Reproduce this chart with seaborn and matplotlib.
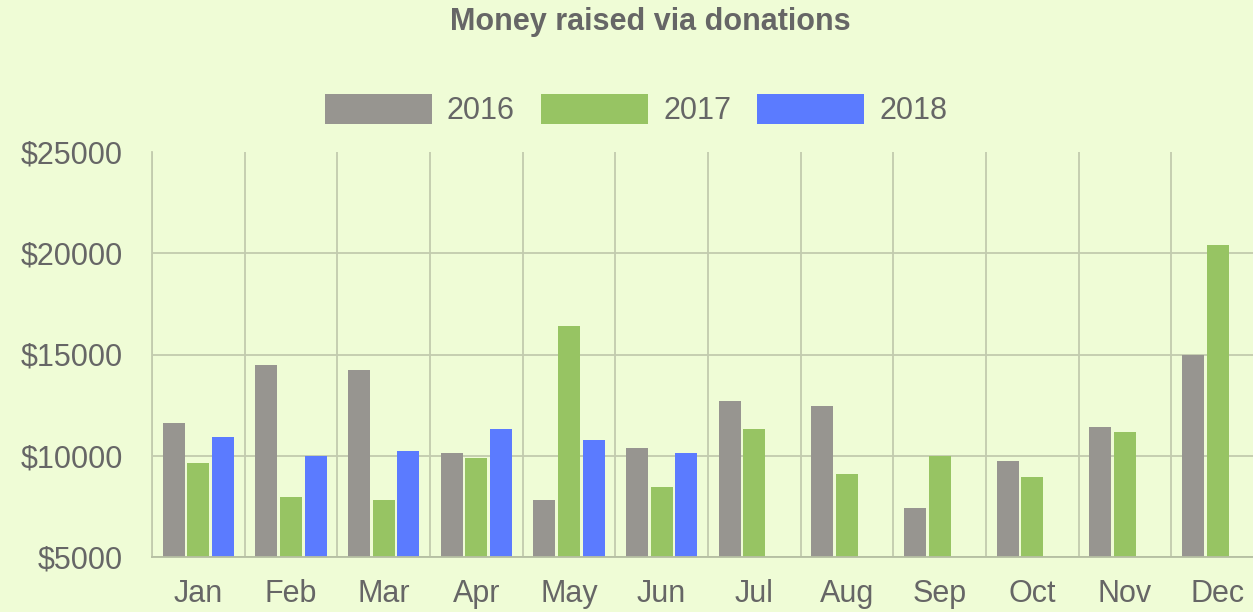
import numpy as np
import pandas as pd
import matplotlib
matplotlib.use("Agg")
import matplotlib.pyplot as plt
import seaborn as sns

months = ["Jan", "Feb", "Mar", "Apr", "May", "Jun",
          "Jul", "Aug", "Sep", "Oct", "Nov", "Dec"]
years = ["2016", "2017", "2018"]
donations_2016 = [11600, 14500, 14250, 10150, 7800, 10400,
                  12700, 12450, 7400, 9750, 11400, 15000]
donations_2017 = [9650, 7950, 7800, 9900, 16400, 8450,
                  11300, 9100, 10000, 8950, 11150, 20400]
donations_2018 = [10950, 10000, 10250, 11300, 10800, 10150]
y_ticks = [5000, 10000, 15000, 20000, 25000]

rows = []
for yr, vals in zip(years, [donations_2016, donations_2017, donations_2018]):
    for m, v in zip(months, vals):
        rows.append({"month": m, "year": yr, "amount": v})
df = pd.DataFrame(rows)

BG = "#EFFCD6"
GRID = "#C2CBAE"
TXT = "#666666"
colors = {"2016": "#979590", "2017": "#97C463", "2018": "#5B7BFF"}

sns.set_style("white")
plt.rcParams["font.family"] = ["Liberation Sans", "DejaVu Sans"]

fig = plt.figure(figsize=(12.53, 6.12), dpi=100, facecolor=BG)
ax = fig.add_axes([152 / 1253, 55 / 612, 1112 / 1253, 405 / 612])
ax.set_facecolor(BG)

sns.barplot(data=df, x="month", y="amount", hue="year", order=months,
            hue_order=years, palette=colors, width=0.8, gap=0.1,
            saturation=1, errorbar=None, ax=ax, legend=True, linewidth=0)

ax.set_ylim(5000, 25000)
ax.set_yticks(y_ticks)
ax.yaxis.set_major_formatter(matplotlib.ticker.FuncFormatter(lambda v, p: f"${int(v)}"))
ax.set_xlim(-0.5, len(months) - 0.5)
ax.set_xticks(np.arange(-0.5, len(months), 1), minor=True)

ax.set_xlabel("")
ax.set_ylabel("")

for s in ["top", "right"]:
    ax.spines[s].set_visible(False)
ax.spines["left"].set_color(GRID)
ax.spines["left"].set_linewidth(1.3)
ax.spines["bottom"].set_color("#B5BFA2")
ax.spines["bottom"].set_linewidth(1.3)

ax.grid(which="minor", axis="x", color=GRID, linewidth=1.3)
ax.grid(which="major", axis="y", color=GRID, linewidth=1.3)
ax.grid(which="major", axis="x", visible=False)
ax.set_axisbelow(True)

ax.tick_params(axis="x", which="major", length=0, pad=16, labelsize=22, labelcolor=TXT)
ax.tick_params(axis="x", which="minor", length=19, width=1.3, color=GRID, direction="out")
ax.tick_params(axis="y", which="major", length=19, width=1.3, color=GRID, pad=2,
               labelsize=22, labelcolor=TXT)

ax.yaxis.get_gridlines()[-1].set_visible(False)
ax.yaxis.get_major_ticks()[-1].tick1line.set_visible(False)

handles, labels = ax.get_legend_handles_labels()
ax.legend_.remove()
leg = fig.legend(handles, labels, loc="center", bbox_to_anchor=(636 / 1253, 1 - 110 / 612),
                 ncol=3, frameon=False, fontsize=22, handlelength=3.5, handleheight=1.15,
                 handletextpad=0.5, columnspacing=0.85)
for t in leg.get_texts():
    t.set_color(TXT)

fig.text(650 / 1253, 1 - 22 / 612, "Money raised via donations", ha="center", va="center",
         fontsize=22, fontweight="bold", color=TXT)

fig.savefig("out.png", dpi=100, facecolor=BG)
